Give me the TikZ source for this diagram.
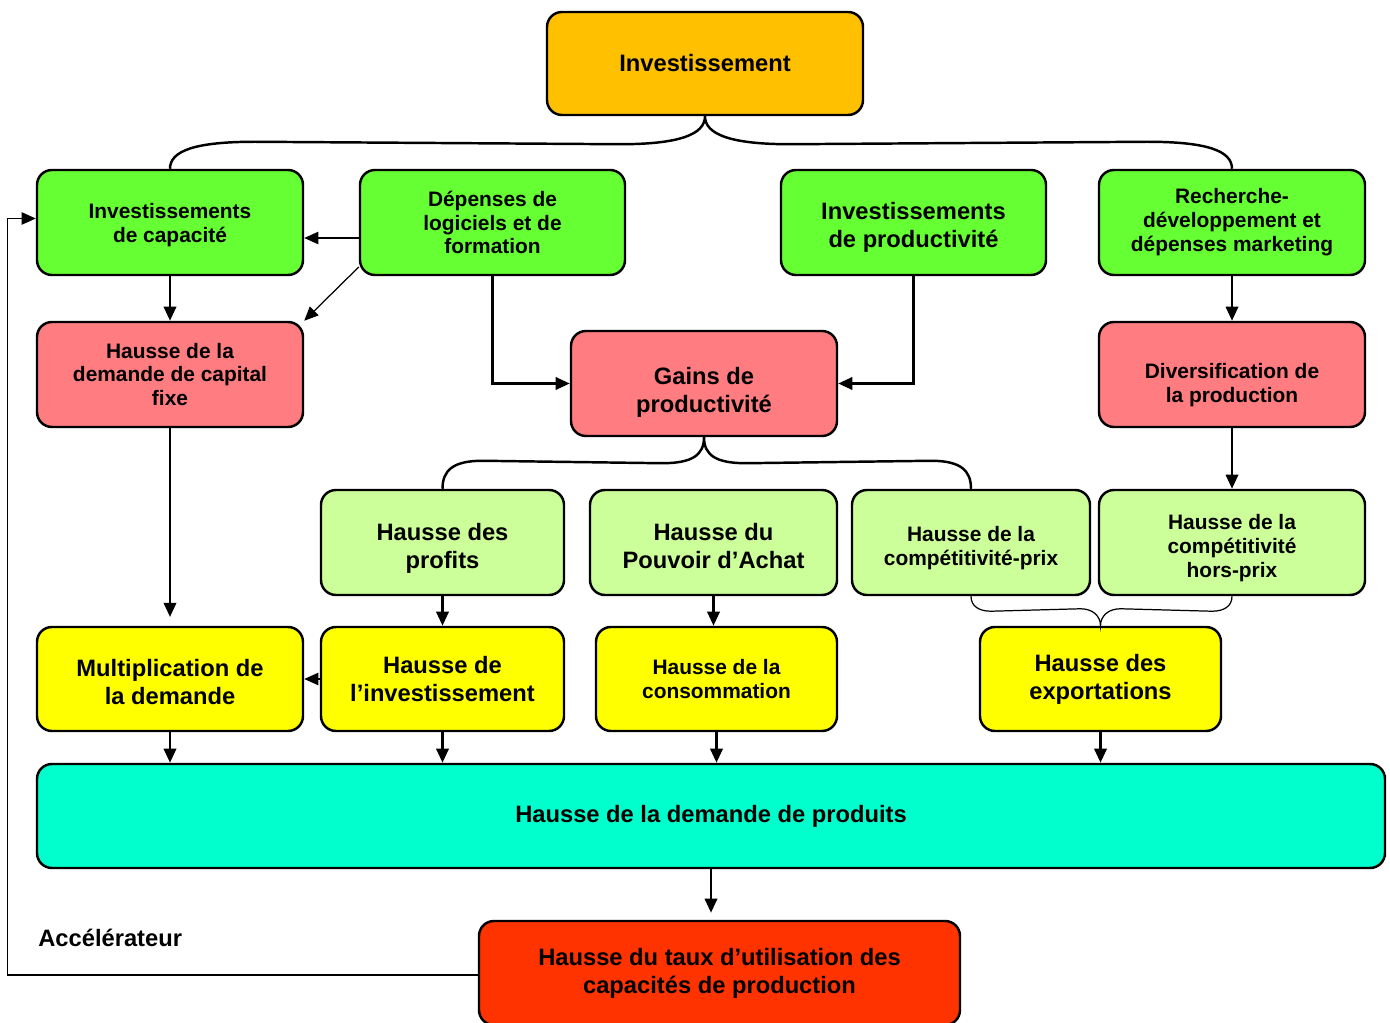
\documentclass[tikz,border=0pt]{standalone}
\usepackage{fontspec}
\setmainfont{Liberation Sans}
\usetikzlibrary{calc,arrows.meta}
\definecolor{orangebox}{HTML}{FFC000}
\definecolor{greenbox}{HTML}{66FF33}
\definecolor{pinkbox}{HTML}{FF7C80}
\definecolor{palebox}{HTML}{CCFF99}
\definecolor{yellowbox}{HTML}{FFFF00}
\definecolor{cyanbox}{HTML}{00FFCC}
\definecolor{redbox}{HTML}{FF3300}
\newcommand{\dn}[1]{\rule{0pt}{#1}}

\begin{document}
\begin{tikzpicture}[x=0.02cm, y=-0.02cm, >={Triangle[length=8pt,width=7pt]}]
\def \bw {1.4pt}
\def \tw {0.7pt}
  \tikzstyle{block} = [draw, color=black, rectangle, rounded corners=8.5pt, line width=\bw,
                       align=center, text=black, inner sep=0,
                       font=\bfseries\fontsize{11.9}{13.6}\selectfont]
  \tikzstyle{big} = [font=\bfseries\fontsize{13.5}{15.9}\selectfont]
  \tikzstyle{lines} = [black, line width=\bw, ->]
  \tikzstyle{lines2} = [black, line width=\bw, -]
  \tikzstyle{thinlines} = [black, line width=\tw, ->]
  \tikzstyle{thinlines2} = [black, line width=\tw, -]
  \tikzset{bsize/.style 2 args={minimum width=#1*0.02cm, minimum height=#2*0.02cm}}

\useasboundingbox (0,0) rectangle (1390,1023);

%%%%%%%%%%%%%%%%%%%%%%%%%%%%%%%%%%%%%%%%%%%%%%%%%%%%%%%%%%%%%%%%%%%%%%%%%%%%%%%

\coordinate (invest_pose) at (705, 63.5);
\coordinate (capa_pose) at (170, 222.5);
\coordinate (logic_pose) at (492.5, 222.5);
\coordinate (prod_pose) at (913.5, 222.5);
\coordinate (rd_pose) at (1232, 222.5);
\coordinate (capfix_pose) at (170, 374.5);
\coordinate (gains_pose) at (704, 383.5);
\coordinate (divers_pose) at (1232, 374.5);
\coordinate (profits_pose) at (442.5, 542.5);
\coordinate (pouvoir_pose) at (713.5, 542.5);
\coordinate (prix_pose) at (971, 542.5);
\coordinate (horsprix_pose) at (1232, 542.5);
\coordinate (multi_pose) at (170, 679);
\coordinate (hinvest_pose) at (442.5, 679);
\coordinate (conso_pose) at (716.5, 679);
\coordinate (export_pose) at (1100.5, 679);
\coordinate (produits_pose) at (711, 816);
\coordinate (taux_pose) at (719.5, 973);

%%%%%%%%%%%%%%%%%%%%%%%%%%%%%%%%%%%%%%%%%%%%%%%%%%%%%%%%%%%%%%%%%%%%%%%%%%%%%%%

\node[block, big, fill=orangebox, bsize={316}{103}] (invest) at (invest_pose) {Investissement};
\node[block, fill=greenbox, bsize={266}{105}] (capa) at (capa_pose) {\dn{12pt}Investissements\\de capacité};
\node[block, fill=greenbox, bsize={265}{105}] (logic) at (logic_pose) {Dépenses de\\logiciels et de\\formation};
\node[block, big, fill=greenbox, bsize={265}{105}] (prod) at (prod_pose) {\dn{15.3pt}Investissements\\de productivité};
\node[block, fill=greenbox, bsize={266}{105}] (rd) at (rd_pose) {Recherche-\\développement et\\dépenses marketing};
\node[block, fill=pinkbox, bsize={266}{105}] (capfix) at (capfix_pose) {Hausse de la\\demande de capital\\fixe};
\node[block, big, fill=pinkbox, bsize={266}{105}] (gains) at (gains_pose) {\dn{20pt}Gains de\\productivité};
\node[block, fill=pinkbox, bsize={266}{105}] (divers) at (divers_pose) {\dn{21pt}Diversification de\\la production};
\node[block, big, fill=palebox, bsize={243}{105}] (profits) at (profits_pose) {\dn{16.7pt}Hausse des\\profits};
\node[block, big, fill=palebox, bsize={247}{105}] (pouvoir) at (pouvoir_pose) {\dn{13.3pt}Hausse du\\Pouvoir d’Achat};
\node[block, fill=palebox, bsize={238}{105}] (prix) at (prix_pose) {\dn{15.5pt}Hausse de la\\compétitivité-prix};
\node[block, fill=palebox, bsize={266}{105}] (horsprix) at (horsprix_pose) {\dn{15pt}Hausse de la\\compétitivité\\hors-prix};
\node[block, big, fill=yellowbox, bsize={266}{104}] (multi) at (multi_pose) {\dn{13.3pt}Multiplication de\\la demande};
\node[block, big, fill=yellowbox, bsize={243}{104}] (hinvest) at (hinvest_pose) {Hausse de\\l’investissement};
\node[block, fill=yellowbox, bsize={241}{104}] (conso) at (conso_pose) {Hausse de la\\consommation};
\node[block, big, fill=yellowbox, bsize={241}{104}] (export) at (export_pose) {Hausse des\\exportations};
\node[block, big, fill=cyanbox, bsize={1348}{104}] (produits) at (produits_pose) {Hausse de la demande de produits};
\node[block, big, fill=redbox, bsize={481}{104}] (taux) at (taux_pose) {Hausse du taux d’utilisation des\\capacités de production};
\node[big, anchor=west, inner sep=0] (accel) at (38, 938) {Accélérateur};

%%%%%%%%%%%%%%%%%%%%%%%%%%%%%%%%%%%%%%%%%%%%%%%%%%%%%%%%%%%%%%%%%%%%%%%%%%%%%%%

\draw[lines2] (capa.north) .. controls +(0,-18) and +(-60,0) .. ($(capa.north)+(85,-27)$)
  -- ($(invest.south)+(-85,28)$) .. controls +(60,0) and +(0,18) .. (invest.south)
  .. controls +(0,18) and +(-60,0) .. ($(invest.south)+(85,28)$)
  -- ($(rd.north)+(-85,-27)$) .. controls +(60,0) and +(0,-18) .. (rd.north);

\draw[thinlines] ($(logic.west)+(0,15.5)$) -- ($(capa.east)+(0,15.5)$);
\draw[thinlines] ($(logic.west)+(0,44.5)$) -- (capfix.north east);
\draw[lines] (capa.south) -- (capfix.north);
\draw[lines] (logic.south) |- (gains.west);
\draw[lines] (prod.south) |- (gains.east);
\draw[lines] (rd.south) -- (divers.north);
\draw[lines] (divers.south) -- (horsprix.north);
\draw[lines, shorten >=5pt] (capfix.south) -- (multi.north);

\draw[lines2] (profits.north) .. controls +(0,-18) and +(-30,0) .. ($(profits.north)+(40,-28)$)
  -- ($(gains.south)+(-42,26)$) .. controls +(30,0) and +(0,18) .. (gains.south)
  .. controls +(0,18) and +(-30,0) .. ($(gains.south)+(42,26)$)
  -- ($(prix.north)+(-40,-28)$) .. controls +(30,0) and +(0,-18) .. (prix.north);

\draw[lines] (profits.south) -- (hinvest.north);
\draw[lines] (pouvoir.south) -- (pouvoir.south |- conso.north);
\draw[thinlines2] (prix.south) .. controls +(0,10) and +(-12,0) .. ($(prix.south)+(20,15)$)
  -- ($(export.north)+(-20,-17)$) .. controls +(12,0) and +(0,-10) .. (export.north)
  .. controls +(0,-10) and +(-12,0) .. ($(export.north)+(20,-17)$)
  -- ($(horsprix.south)+(-20,15)$) .. controls +(12,0) and +(0,10) .. (horsprix.south);
\draw[thinlines] (hinvest.west) -- (multi.east);

\draw[lines] (multi.south) -- (multi.south |- produits.north);
\draw[lines] (hinvest.south) -- (hinvest.south |- produits.north);
\draw[lines] (conso.south) -- (conso.south |- produits.north);
\draw[lines] (export.south) -- (export.south |- produits.north);
\draw[lines, shorten >=4pt] (produits.south) -- (produits.south |- taux.north);

\draw[thinlines] ($(taux.west)+(0,2)$) -- ++(-470,0) |- ($(capa.west)+(0,-4)$);

\end{tikzpicture}
\end{document}
